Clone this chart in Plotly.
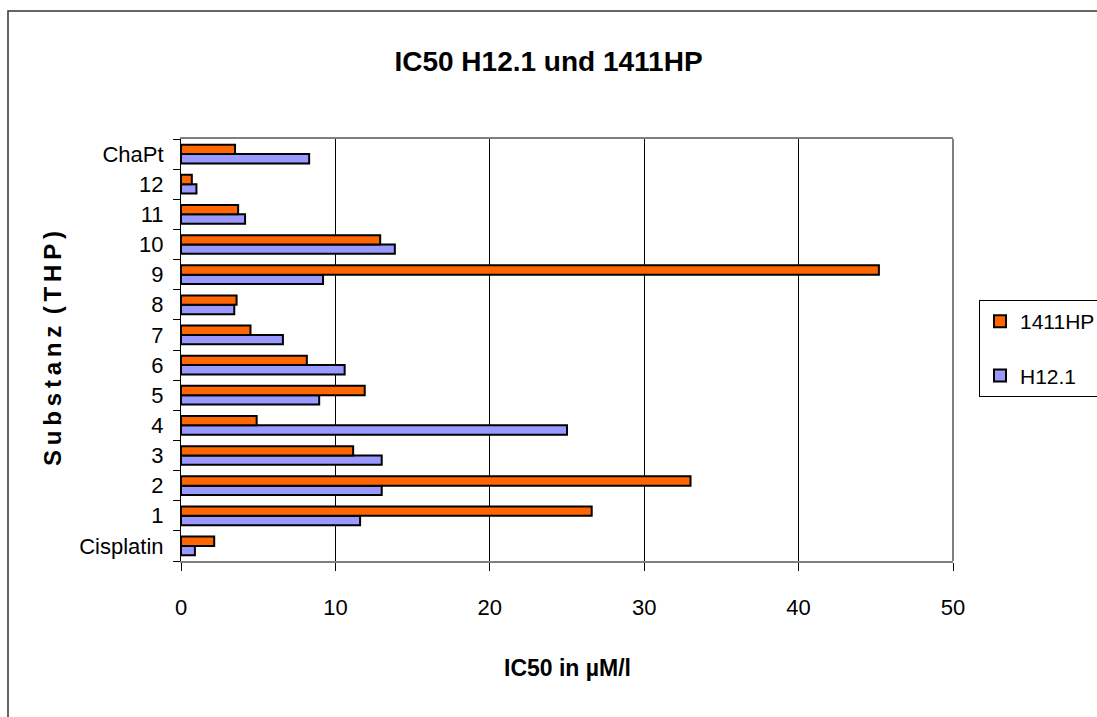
import plotly.graph_objects as go

categories = ["Cisplatin", "1", "2", "3", "4", "5", "6", "7", "8", "9", "10", "11", "12", "ChaPt"]
h121 = [0.9, 11.6, 13.0, 13.0, 25.0, 8.95, 10.6, 6.6, 3.45, 9.2, 13.85, 4.15, 1.0, 8.3]
hp1411 = [2.15, 26.6, 33.0, 11.15, 4.9, 11.9, 8.15, 4.5, 3.6, 45.2, 12.9, 3.7, 0.7, 3.5]
x_ticks = [0, 10, 20, 30, 40, 50]

FONT = "Liberation Sans, Arial, sans-serif"

fig = go.Figure()
fig.add_trace(go.Bar(y=categories, x=h121, orientation="h", name="H12.1",
                     legendgroup="b", legendrank=2,
                     marker=dict(color="#9999FF", line=dict(color="black", width=2))))
fig.add_trace(go.Bar(y=categories, x=hp1411, orientation="h", name="1411HP",
                     legendgroup="a", legendrank=1,
                     marker=dict(color="#FF6600", line=dict(color="black", width=2))))

W, H = 1097, 717
L, R, T, B = 181, 953, 139, 561
pw, ph = R - L, B - T

def px(x):
    return (x - L) / pw

def py(y):
    return (B - y) / ph

fig.update_layout(
    width=W, height=H,
    margin=dict(l=L, r=W - R, t=T, b=H - B, pad=0, autoexpand=False),
    paper_bgcolor="white", plot_bgcolor="white",
    barmode="group", bargap=0.38, bargroupgap=0.0,
    font=dict(family=FONT, color="black", size=21),
    title=dict(text="<b>IC50 H12.1 und 1411HP</b>", x=0.5, xanchor="center",
               xref="container", yref="container", y=1 - 61 / H, yanchor="middle",
               font=dict(size=28, family=FONT, color="black")),
    xaxis=dict(range=[0, 50], tickvals=x_ticks, ticktext=[str(v) for v in x_ticks],
               showgrid=True, gridcolor="black", gridwidth=1, zeroline=False,
               showline=True, linecolor="#808080", linewidth=2, mirror=True,
               ticks="outside", ticklen=8, tickcolor="black", tickwidth=1,
               ticklabelstandoff=18, tickfont=dict(size=22)),
    yaxis=dict(type="category", categoryorder="array", categoryarray=categories,
               showgrid=False, zeroline=False, showline=True, linecolor="black",
               linewidth=1, ticks="outside", ticklen=7, tickcolor="black",
               tickson="boundaries", ticklabelstandoff=12, tickfont=dict(size=22)),
    legend=dict(x=px(979), y=py(300), xanchor="left", yanchor="top",
                xref="paper", yref="paper",
                bordercolor="black", borderwidth=1, bgcolor="white",
                traceorder="grouped", tracegroupgap=24,
                font=dict(size=21, family=FONT), itemwidth=30),
    showlegend=True,
)

fig.add_annotation(text="<b>IC50 in µM/l</b>", xref="paper", yref="paper",
                   x=0.5, y=py(668), xanchor="center", yanchor="middle",
                   showarrow=False, font=dict(size=23, family=FONT))
fig.add_annotation(text="<b>S\u2009u\u2009b\u2009s\u2009t\u2009a\u2009n\u2009z\u2009 (\u2009T\u2009H\u2009P\u2009)</b>",
                   xref="paper", yref="paper", textangle=-90,
                   x=px(52), y=py(349), xanchor="center", yanchor="middle",
                   showarrow=False, font=dict(size=24, family=FONT))

# right plot border (gray)
fig.add_shape(type="line", xref="paper", yref="paper", x0=1, x1=1, y0=0, y1=1,
              line=dict(color="#808080", width=2))
# outer chart border (left and top edges visible)
fig.add_shape(type="rect", xref="paper", yref="paper",
              x0=px(8), x1=px(1200), y0=py(800), y1=py(11),
              line=dict(color="#333333", width=1.5), layer="below")

fig.write_html("out.html", config={"displayModeBar": False},
               post_script="document.body.style.margin='0';document.body.style.overflow='hidden';")
